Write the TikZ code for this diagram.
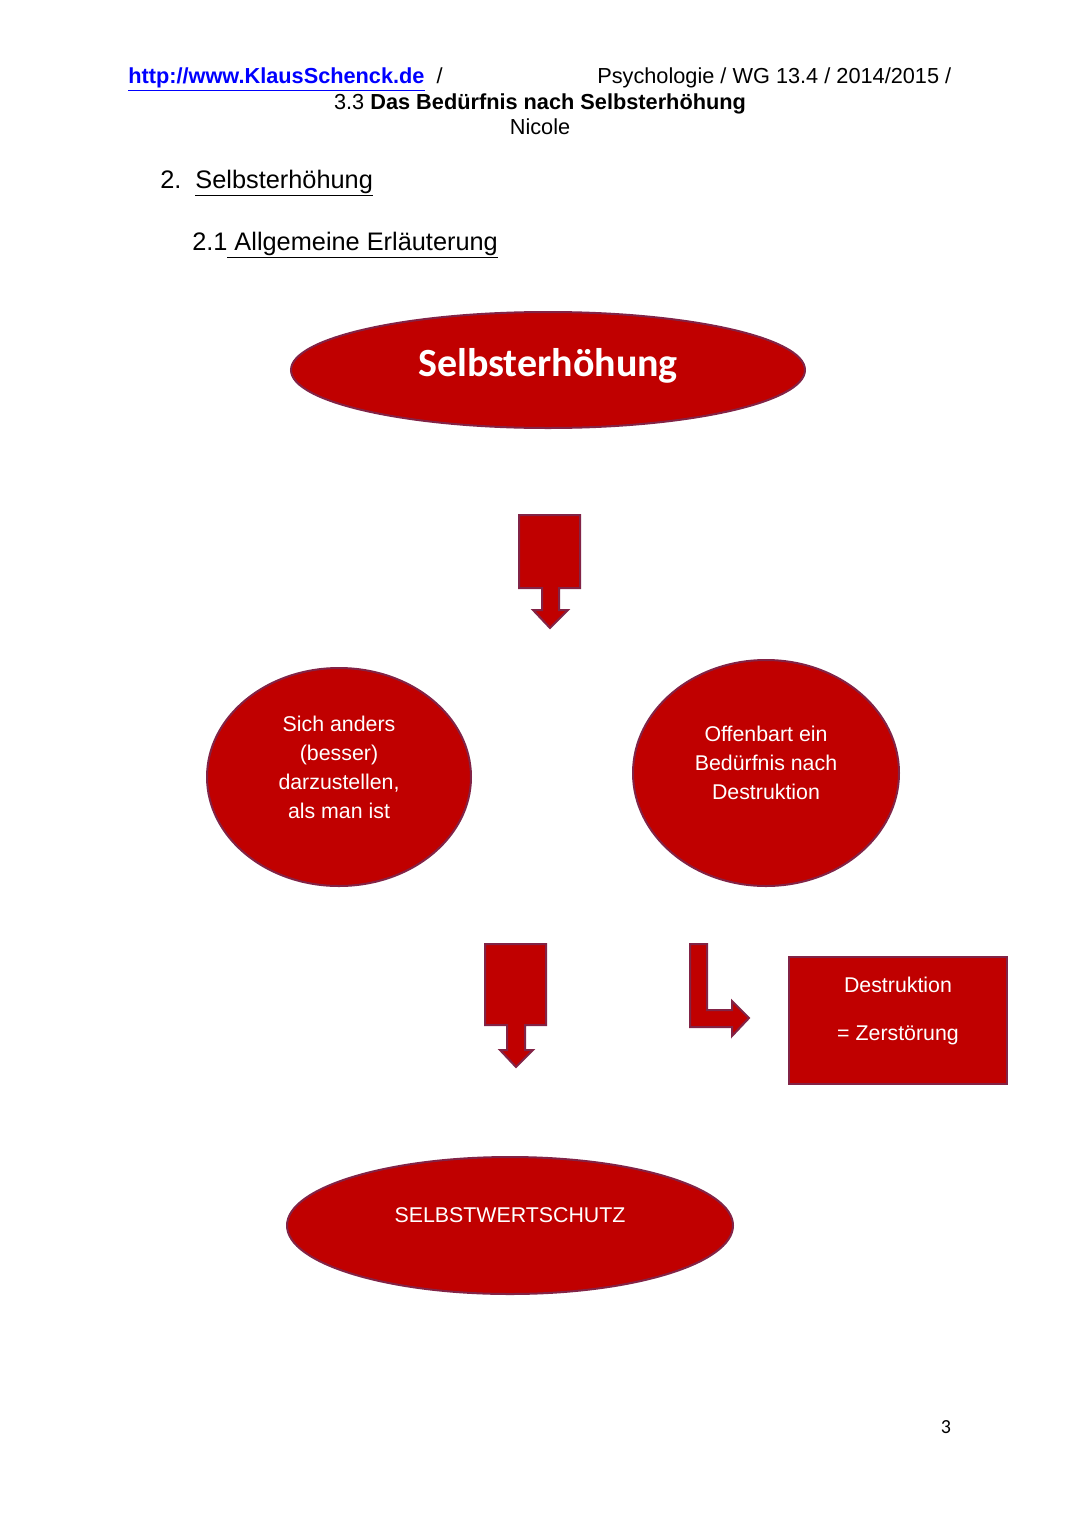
\documentclass[tikz,border=0pt]{standalone}
\usepackage{fontspec}
\setmainfont{Liberation Sans}
\newfontfamily\carlito{Carlito}
\usepackage{xcolor}
\definecolor{myred}{RGB}{192,0,0}
\definecolor{myborder}{RGB}{130,35,70}
\definecolor{mylink}{RGB}{0,0,255}
\usepackage{tikz}
\usetikzlibrary{shapes.geometric,positioning,calc}
\tikzstyle{oval}=[draw=myborder,fill=myred,ellipse,line width=1.5pt,inner sep=0pt]
\tikzstyle{kasten}=[draw=myborder,fill=myred,rectangle,line width=1.5pt,inner sep=0pt]
\tikzstyle{pfeil}=[draw=myborder,fill=myred,line width=1.5pt,line join=miter]
\tikzstyle{weiss}=[text=white,align=center,font=\fontsize{16}{21.75}\selectfont,inner sep=0pt]
\tikzstyle{kopf}=[font=\fontsize{16.3}{19}\selectfont,inner sep=0pt]
\tikzstyle{gliederung}=[font=\fontsize{19}{22}\selectfont,inner sep=0pt,anchor=base west]

\begin{document}
\begin{tikzpicture}[x=0.75pt,y=-0.75pt]
\useasboundingbox (0,0) rectangle (1080,1527);
% Kopfzeile
\node[kopf,anchor=base west] (link) at (128,84) {\textcolor{mylink}{\underline{\textbf{http://www.KlausSchenck.de}}}\ \ /};
\node[kopf,anchor=base west] (fach) at (597,84) {Psychologie / WG 13.4 / 2014/2015 /};
\node[kopf,anchor=base] (titel) at (540,109) {3.3 \textbf{Das Bedürfnis nach Selbsterhöhung}};
\node[kopf,anchor=base] (name) at (540,134) {Nicole};
\node[gliederung] (abschnitt) at (160,188) {2.\ \ \underline{Selbsterhöhung}};
\node[gliederung] (unterabschnitt) at (192,250) {2.1\underline{\ Allgemeine Erläuterung}};

% Schaubild
\node[oval,minimum width=385.5pt,minimum height=87pt] (erhoehung) at (548,370) {};
\node[text=white,inner sep=0pt,font=\carlito\bfseries\fontsize{30}{36}\selectfont] (erhoehungtext) at ($(erhoehung)+(0,-4)$) {Selbsterhöhung};

\draw[pfeil] (519,515) -- (580,515) -- (580,588) -- (559,588) -- (559,610) -- (568,610)
  -- (550,628) -- (533,610) -- (542,610) -- (542,588) -- (519,588) -- cycle;

\node[oval,minimum width=198pt,minimum height=163.5pt] (links) at (339,777) {};
\node[weiss] (linkstext) at ($(links)+(0,-10)$) {Sich anders\\(besser)\\darzustellen,\\als man ist};
\node[oval,minimum width=199.5pt,minimum height=169.5pt] (rechts) at (766,773) {};
\node[weiss] (rechtstext) at ($(rechts)+(0,-10)$) {Offenbart ein\\Bedürfnis nach\\Destruktion};

\draw[pfeil] (485,944) -- (546,944) -- (546,1025) -- (525,1025) -- (525,1050) -- (533,1050)
  -- (516,1067) -- (500,1050) -- (507,1050) -- (507,1025) -- (485,1025) -- cycle;
\draw[pfeil] (690,944) -- (707,944) -- (707,1010) -- (732,1010) -- (732,1001) -- (749,1018)
  -- (732,1036) -- (732,1027) -- (690,1027) -- cycle;

\node[kasten,minimum width=163.5pt,minimum height=95.25pt] (destruktion) at (898,1020) {};
\node[weiss] (destruktiontext) at ($(destruktion)+(0,-9)$) {Destruktion\\[14.25pt]= Zerstörung};

\node[oval,minimum width=334.5pt,minimum height=102.75pt] (schutz) at (510,1225.5) {};
\node[weiss] (schutztext) at ($(schutz)+(0,-10)$) {SELBSTWERTSCHUTZ};

\node[inner sep=0pt,font=\carlito\fontsize{15}{18}\selectfont] (seite) at (946,1427) {3};
\end{tikzpicture}
\end{document}
